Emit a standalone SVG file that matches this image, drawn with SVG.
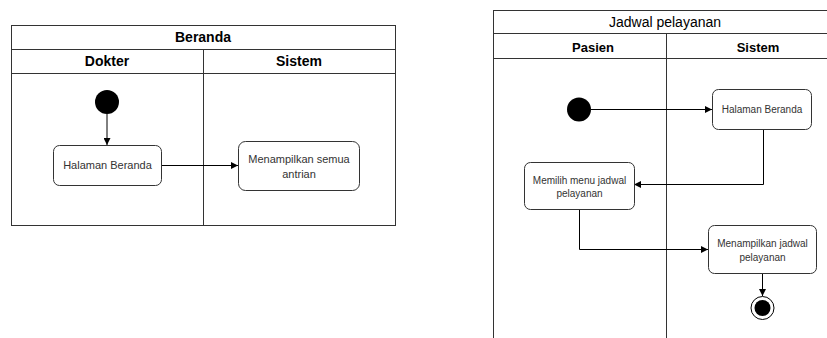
<svg xmlns="http://www.w3.org/2000/svg" width="827" height="338" viewBox="0 0 827 338">
<defs>
<style>
.lane{fill:none;stroke:#333;stroke-width:1}
.node{fill:#fff;stroke:#333;stroke-width:1}
.hdr{font-family:"Liberation Sans",Arial,sans-serif;font-weight:bold;fill:#000;text-anchor:middle}
.t{font-family:"Liberation Sans",Arial,sans-serif;fill:#333;text-anchor:middle}
.edge{fill:none;stroke:#000;stroke-width:1}
</style>
<marker id="arr" viewBox="0 0 10 10" refX="10" refY="5" markerWidth="7" markerHeight="7" orient="auto" markerUnits="userSpaceOnUse">
<path d="M0,0 L10,5 L0,10 z" fill="#000"/>
</marker>
</defs>
<rect width="827" height="338" fill="#fff"/>

<g id="lane-beranda">
<rect class="lane" x="11.5" y="25.5" width="384" height="200"/>
<line class="lane" x1="11.5" y1="49.5" x2="395.5" y2="49.5"/>
<line class="lane" x1="11.5" y1="73.5" x2="395.5" y2="73.5"/>
<line class="lane" x1="203.5" y1="49.5" x2="203.5" y2="225.5"/>
<text class="hdr" x="203" y="42" font-size="14">Beranda</text>
<text class="hdr" x="107" y="66" font-size="14">Dokter</text>
<text class="hdr" x="299" y="66" font-size="14">Sistem</text>
</g>

<g id="lane-jadwal">
<rect class="lane" x="493.5" y="10.5" width="360" height="340"/>
<line class="lane" x1="493.5" y1="33.5" x2="853.5" y2="33.5"/>
<line class="lane" x1="493.5" y1="58.5" x2="853.5" y2="58.5"/>
<line class="lane" x1="666.5" y1="33.5" x2="666.5" y2="350"/>
<text class="t" x="665" y="27" font-size="14" fill="#000" style="fill:#000">Jadwal pelayanan</text>
<text class="hdr" x="593" y="52" font-size="13">Pasien</text>
<text class="hdr" x="758" y="52" font-size="13">Sistem</text>
</g>

<g id="connectors">
<line class="edge" x1="107" y1="114" x2="107" y2="145" marker-end="url(#arr)"/>
<line class="edge" x1="161" y1="165.5" x2="238" y2="165.5" marker-end="url(#arr)"/>
<line class="edge" x1="591" y1="109.5" x2="712" y2="109.5" marker-end="url(#arr)"/>
<polyline class="edge" points="763.5,129 763.5,184.5 634,184.5" marker-end="url(#arr)"/>
<polyline class="edge" points="579.5,209 579.5,249.5 708,249.5" marker-end="url(#arr)"/>
<line class="edge" x1="762.5" y1="273" x2="762.5" y2="296" marker-end="url(#arr)"/>
</g>

<g id="start1"><circle cx="107" cy="102" r="12" fill="#000"/></g>
<g id="halaman-beranda-1">
<rect class="node" x="53.5" y="145.5" width="108" height="40" rx="6"/>
<text class="t" x="107.5" y="169" font-size="11">Halaman Beranda</text>
</g>
<g id="menampilkan-antrian">
<rect class="node" x="238.5" y="141.5" width="121" height="49" rx="7"/>
<text class="t" x="299" y="163" font-size="11">Menampilkan semua</text>
<text class="t" x="299" y="178" font-size="11">antrian</text>
</g>

<g id="start2"><circle cx="579" cy="109.5" r="12" fill="#000"/></g>
<g id="halaman-beranda-2">
<rect class="node" x="712.5" y="89.5" width="99" height="40" rx="6"/>
<text class="t" x="762" y="113" font-size="10">Halaman Beranda</text>
</g>
<g id="memilih-menu">
<rect class="node" x="524.5" y="162.5" width="110" height="47" rx="6"/>
<text class="t" x="579.5" y="183.5" font-size="10">Memilih menu jadwal</text>
<text class="t" x="579.5" y="197" font-size="10">pelayanan</text>
</g>
<g id="menampilkan-jadwal">
<rect class="node" x="708.5" y="225.5" width="108" height="48" rx="6"/>
<text class="t" x="762.5" y="246.5" font-size="10">Menampilkan jadwal</text>
<text class="t" x="762.5" y="260.5" font-size="10">pelayanan</text>
</g>
<g id="end">
<circle cx="762.5" cy="308" r="11.5" fill="#fff" stroke="#000" stroke-width="1"/>
<circle cx="762.5" cy="308" r="8" fill="#000"/>
</g>
</svg>
